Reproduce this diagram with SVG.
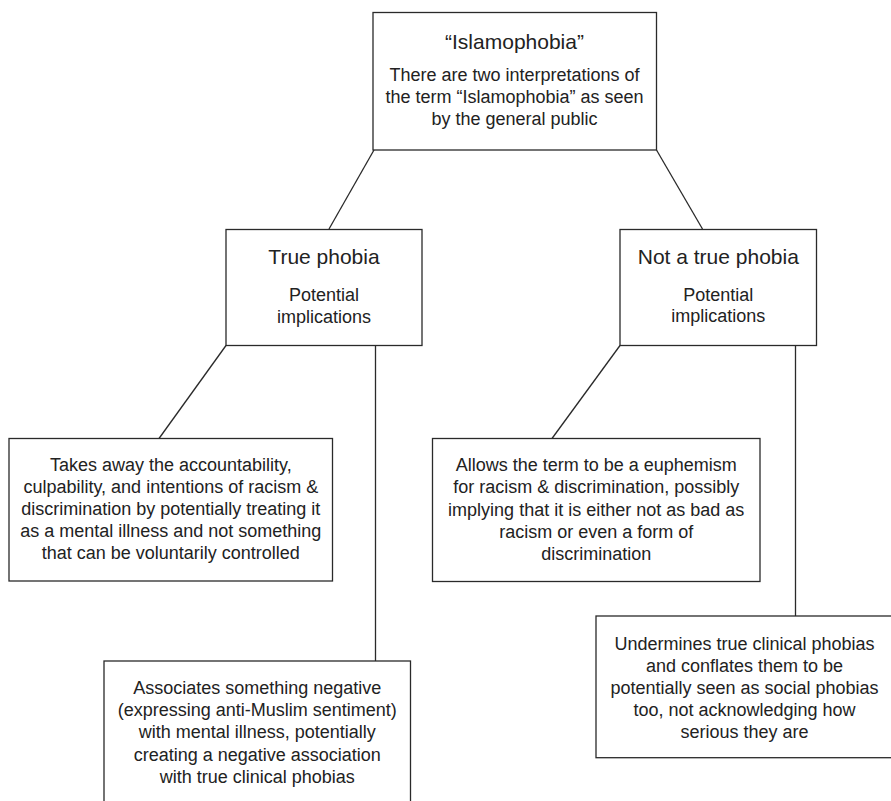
<svg xmlns="http://www.w3.org/2000/svg" width="891" height="801" viewBox="0 0 891 801">
  <style>
    .box { fill: #ffffff; stroke: #2a2a2a; stroke-width: 1.3; }
    .link { stroke: #2a2a2a; stroke-width: 1.3; fill: none; }
    text { font-family: "Liberation Sans", Arial, Helvetica, sans-serif; fill: #222222; text-anchor: middle; }
    .title { font-size: 21px; }
    .body { font-size: 18px; }
  </style>
  <rect width="891" height="801" fill="#ffffff"/>

  <!-- connectors -->
  <g id="connectors">
    <line class="link" x1="374" y1="150" x2="329" y2="229"/>
    <line class="link" x1="656.5" y1="150" x2="702.5" y2="229"/>
    <line class="link" x1="226" y1="345.5" x2="159" y2="438.5"/>
    <line class="link" x1="375.5" y1="345.5" x2="375.5" y2="661"/>
    <line class="link" x1="620" y1="345.5" x2="552" y2="438.5"/>
    <line class="link" x1="795.5" y1="345.5" x2="795.5" y2="616"/>
  </g>

  <!-- root: the term -->
  <g id="node-islamophobia">
    <rect class="box" x="373" y="12.5" width="283.5" height="137.5"/>
    <text class="title" x="514.5" y="49">“Islamophobia”</text>
    <text class="body" x="514.5" y="81">There are two interpretations of</text>
    <text class="body" x="514.5" y="103">the term “Islamophobia” as seen</text>
    <text class="body" x="514.5" y="125">by the general public</text>
  </g>

  <!-- interpretation: true phobia -->
  <g id="node-true-phobia">
    <rect class="box" x="226" y="229.5" width="196" height="116"/>
    <text class="title" x="324" y="264">True phobia</text>
    <text class="body" x="324" y="301">Potential</text>
    <text class="body" x="324" y="322.5">implications</text>
  </g>

  <!-- interpretation: not a true phobia -->
  <g id="node-not-true-phobia">
    <rect class="box" x="620" y="229.5" width="196.5" height="116"/>
    <text class="title" x="718.3" y="263.5">Not a true phobia</text>
    <text class="body" x="718.3" y="300.5">Potential</text>
    <text class="body" x="718.3" y="322">implications</text>
  </g>

  <!-- true phobia: implication 1 -->
  <g id="node-accountability">
    <rect class="box" x="9" y="438.5" width="323.5" height="142.5"/>
    <text class="body" x="170.8" y="471">Takes away the accountability,</text>
    <text class="body" x="170.8" y="493">culpability, and intentions of racism &amp;</text>
    <text class="body" x="170.8" y="515">discrimination by potentially treating it</text>
    <text class="body" x="170.8" y="537.3">as a mental illness and not something</text>
    <text class="body" x="170.8" y="559.3">that can be voluntarily controlled</text>
  </g>

  <!-- true phobia: implication 2 -->
  <g id="node-negative-association">
    <rect class="box" x="104" y="661" width="306.5" height="160"/>
    <text class="body" x="257.3" y="694">Associates something negative</text>
    <text class="body" x="257.3" y="716.2">(expressing anti-Muslim sentiment)</text>
    <text class="body" x="257.3" y="738.4">with mental illness, potentially</text>
    <text class="body" x="257.3" y="760.6">creating a negative association</text>
    <text class="body" x="257.3" y="782.8">with true clinical phobias</text>
  </g>

  <!-- not a true phobia: implication 1 -->
  <g id="node-euphemism">
    <rect class="box" x="432.5" y="438.5" width="327.5" height="143"/>
    <text class="body" x="596.2" y="471">Allows the term to be a euphemism</text>
    <text class="body" x="596.2" y="493.3">for racism &amp; discrimination, possibly</text>
    <text class="body" x="596.2" y="515.7">implying that it is either not as bad as</text>
    <text class="body" x="596.2" y="538">racism or even a form of</text>
    <text class="body" x="596.2" y="560">discrimination</text>
  </g>

  <!-- not a true phobia: implication 2 -->
  <g id="node-undermines">
    <rect class="box" x="596" y="616" width="298" height="141.7"/>
    <text class="body" x="744.5" y="650">Undermines true clinical phobias</text>
    <text class="body" x="744.5" y="672">and conflates them to be</text>
    <text class="body" x="744.5" y="694.2">potentially seen as social phobias</text>
    <text class="body" x="744.5" y="716">too, not acknowledging how</text>
    <text class="body" x="744.5" y="737.8">serious they are</text>
  </g>
</svg>
